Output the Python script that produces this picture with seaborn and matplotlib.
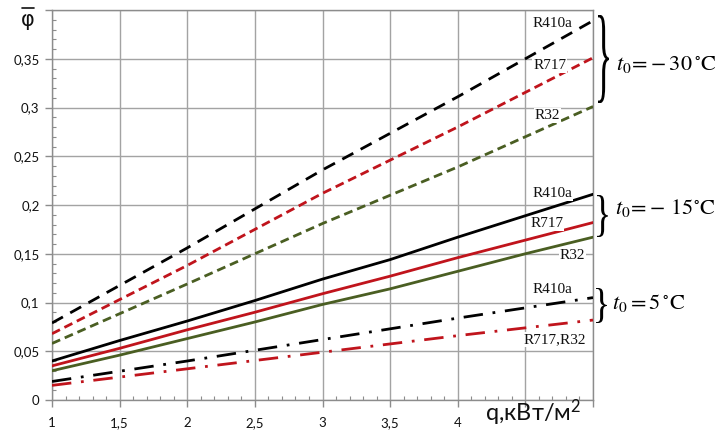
import numpy as np
import pandas as pd
import matplotlib
matplotlib.use("Agg")
import matplotlib.pyplot as plt
import seaborn as sns
from matplotlib.textpath import TextPath
from matplotlib.patches import PathPatch
from matplotlib.font_manager import FontProperties
from matplotlib.transforms import Affine2D
from matplotlib.ticker import MultipleLocator, FixedLocator, FixedFormatter
from matplotlib.lines import Line2D

# ---------------- data ----------------
q = [1, 2, 3, 4, 5]
r410a_m30 = [0.079, 0.156, 0.236, 0.311, 0.389]
r717_m30 = [0.068, 0.138, 0.212, 0.280, 0.351]
r32_m30 = [0.058, 0.119, 0.181, 0.239, 0.301]

q_fine = [1, 1.5, 2, 2.5, 3, 3.5, 4, 4.5, 5]
r410a_m15 = [0.040, 0.061, 0.081, 0.102, 0.124, 0.144, 0.167, 0.189, 0.211]
r717_m15 = [0.035, 0.053, 0.072, 0.090, 0.109, 0.127, 0.146, 0.164, 0.182]
r32_m15 = [0.030, 0.046, 0.063, 0.080, 0.098, 0.114, 0.132, 0.150, 0.167]

r410a_p5 = [0.019, 0.040, 0.062, 0.084, 0.105]
r717_r32_p5 = [0.015, 0.032, 0.049, 0.066, 0.082]

x_ticks = [1, 1.5, 2, 2.5, 3, 3.5, 4, 4.5, 5]
x_labels = ["1", "1,5", "2", "2,5", "3", "3,5", "4", "", ""]
y_ticks = [0, 0.05, 0.1, 0.15, 0.2, 0.25, 0.3, 0.35, 0.4]
y_labels = ["0", "0,05", "0,1", "0,15", "0,2", "0,25", "0,3", "0,35", ""]

BLACK = "#000000"
RED = "#c0141c"
GREEN = "#4a5e22"

# ---------------- figure ----------------
sns.set_theme(style="white")
plt.rcParams["font.family"] = ["Lato", "DejaVu Sans"]
plt.rcParams["mathtext.fontset"] = "stix"

W, H = 718, 434
fig = plt.figure(figsize=(W / 100, H / 100), dpi=100)
fig.patch.set_facecolor("white")
ax = fig.add_axes([52 / W, 1 - 400 / H, (593 - 52) / W, (400 - 10) / H])

series = [
    (q, r410a_m30, BLACK, (0, (4.5, 3.0)), 2.0),
    (q, r717_m30, RED, (0, (3.2, 1.8)), 2.0),
    (q, r32_m30, GREEN, (0, (3.2, 1.8)), 2.0),
    (q_fine, r410a_m15, BLACK, "-", 2.0),
    (q_fine, r717_m15, RED, "-", 2.0),
    (q_fine, r32_m15, GREEN, "-", 2.0),
    (q, r410a_p5, BLACK, (0, (7, 3.5, 1, 3.5)), 2.0),
    (q, r717_r32_p5, RED, (0, (7, 3.5, 1, 3.5)), 2.0),
]
for xs, ys, c, ls, lw in series:
    df = pd.DataFrame({"q": xs, "phi": ys})
    sns.lineplot(data=df, x="q", y="phi", ax=ax, color=c, linestyle=ls,
                 linewidth=lw, zorder=3)

ax.set_xlim(1, 5)
ax.set_ylim(0, 0.4)
ax.xaxis.set_major_locator(FixedLocator(x_ticks))
ax.xaxis.set_major_formatter(FixedFormatter(x_labels))
ax.yaxis.set_major_locator(FixedLocator(y_ticks))
ax.yaxis.set_major_formatter(FixedFormatter(y_labels))
ax.xaxis.set_minor_locator(MultipleLocator(0.1))
ax.yaxis.set_minor_locator(MultipleLocator(0.01))
ax.set_xlabel("")
ax.set_ylabel("")

GRID = "#a3a3a3"
ax.grid(True, which="major", color=GRID, linewidth=1.0)
for s in ax.spines.values():
    s.set_color("#8c8c8c")
    s.set_linewidth(1.0)
ax.tick_params(which="both", bottom=True, left=True, color="#8c8c8c")
ax.tick_params(which="major", direction="out", length=5, width=1)
ax.tick_params(which="minor", direction="in", length=3, width=0.8)
ax.tick_params(axis="x", which="major", pad=7, labelsize=9.5, labelcolor="#111111")
ax.tick_params(axis="y", which="major", pad=4, labelsize=9.5, labelcolor="#111111")

# ---------------- series labels ----------------
lab_kw = dict(family=["Liberation Serif", "DejaVu Serif"], fontsize=11,
              ha="center", va="center", color="#111111", zorder=4,
              bbox=dict(facecolor="white", edgecolor="none", pad=0.5))
ax.text(4.70, 0.386, "R410a", **lab_kw)
ax.text(4.68, 0.343, "R717", **lab_kw)
ax.text(4.66, 0.292, "R32", **lab_kw)
ax.text(4.70, 0.212, "R410a", **lab_kw)
ax.text(4.66, 0.181, "R717", **lab_kw)
ax.text(4.85, 0.148, "R32", **lab_kw)
ax.text(4.70, 0.113, "R410a", **lab_kw)
ax.text(4.72, 0.062, "R717,R32", **lab_kw)


# ---------------- braces ----------------
def brace(x0, x1, ytop, ybot):
    tp = TextPath((0, 0), "}", size=100,
                  prop=FontProperties(family="Liberation Serif"))
    bb = tp.get_extents()
    sx = (x1 - x0) / bb.width
    sy = (ybot - ytop) / bb.height
    tr = (Affine2D().translate(-bb.x0, -bb.y0).scale(sx, sy)
          .translate(x0, H - ybot))
    patch = PathPatch(tp, transform=tr, facecolor="black", edgecolor="none")
    fig.add_artist(patch)


brace(598, 609, 15, 103)
brace(597, 608, 195, 237)
brace(596, 607, 288, 323)

t_kw = dict(fontsize=16, ha="left", va="center", color="black")
fig.text(616 / W, 1 - 65 / H, r"$t_0\!=\!-30\,^{\circ}\mathrm{C}$", **t_kw)
fig.text(615 / W, 1 - 208 / H, r"$t_0\!=\!-\,15^{\circ}\mathrm{C}$", **t_kw)
fig.text(612 / W, 1 - 303 / H, r"$t_0=5\,^{\circ}\mathrm{C}$", **t_kw)

# ---------------- axis titles ----------------
fig.text(485 / W, 1 - 421 / H, r"q,кВт/м$^{\mathregular{2}}$", fontsize=17,
         ha="left", va="baseline", color="#111111",
         family=["Lato", "DejaVu Sans"])
fig.text(28 / W, 1 - 20 / H, "φ", fontsize=15, ha="center", va="center",
         color="#111111", family=["DejaVu Sans"])
fig.add_artist(Line2D([22 / W, 34 / W], [1 - 8 / H, 1 - 8 / H],
                      color="#111111", linewidth=1.2,
                      transform=fig.transFigure))

fig.savefig("out.png", dpi=100, facecolor="white")
